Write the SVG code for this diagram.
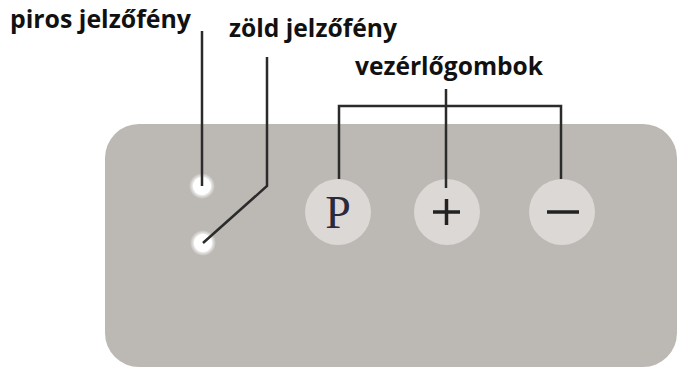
<svg xmlns="http://www.w3.org/2000/svg" width="680" height="369" viewBox="0 0 680 369">
<defs>
<style>
.lbl{font-family:"Open Sans","Liberation Sans",sans-serif;font-weight:bold;font-size:25px;fill:#111}
.ln{fill:none;stroke:#2b2b2b;stroke-width:2.5;stroke-linejoin:miter}
.btn{fill:#dcd8d5}
.led{fill:#ffffff}
.sym{stroke:#222;stroke-width:3.5;fill:none}
</style>
<radialGradient id="glow">
<stop offset="0.6" stop-color="#ffffff"/>
<stop offset="1" stop-color="#ffffff" stop-opacity="0"/>
</radialGradient>
</defs>
<rect width="680" height="369" fill="#ffffff"/>
<g id="panel">
<rect x="105" y="124" width="572" height="243" rx="34" ry="34" fill="#bcb8b4"/>
</g>
<g id="red-led">
<circle cx="202" cy="186" r="13" fill="url(#glow)"/>
<circle cx="202" cy="186" r="9" class="led"/>
</g>
<g id="green-led">
<circle cx="203" cy="243" r="13" fill="url(#glow)"/>
<circle cx="203" cy="243" r="9" class="led"/>
</g>
<g id="btn-p">
<circle cx="338" cy="212" r="33" class="btn"/>
<text x="338" y="228" text-anchor="middle" font-family="Liberation Serif,serif" font-size="46" fill="#2a2a3a">P</text>
</g>
<g id="btn-plus">
<circle cx="447" cy="212" r="33" class="btn"/>
<path d="M433 212H460M446.5 199V225" class="sym"/>
</g>
<g id="btn-minus">
<circle cx="562" cy="212" r="33" class="btn"/>
<path d="M547 212H579" class="sym" stroke-width="4.5"/>
</g>
<g id="labels">
<text x="10" y="28" class="lbl" textLength="181" lengthAdjust="spacingAndGlyphs">piros jelzőfény</text>
<text x="229" y="37" class="lbl" textLength="168" lengthAdjust="spacingAndGlyphs">zöld jelzőfény</text>
<text x="355" y="75" class="lbl" textLength="188" lengthAdjust="spacingAndGlyphs">vezérlőgombok</text>
</g>
<g id="connectors">
<path d="M202 31V186" class="ln"/>
<path d="M267 57V186L203 243" class="ln"/>
<path d="M446 89V106" class="ln"/>
<path d="M339 179V106H561V179" class="ln"/>
<path d="M446 106V188" class="ln"/>
</g>
</svg>
